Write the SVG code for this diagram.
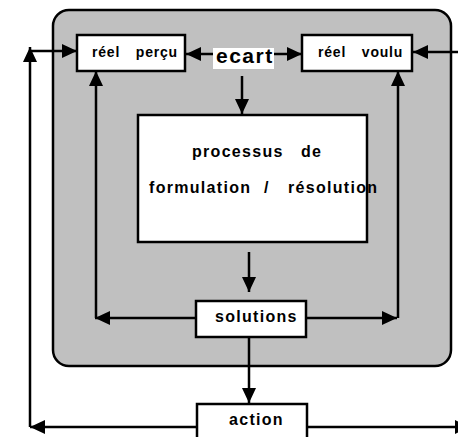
<svg xmlns="http://www.w3.org/2000/svg" width="458" height="437" viewBox="0 0 458 437">
<style>
.box{fill:#fff;stroke:#000;stroke-width:2.5}
.ln{fill:none;stroke:#000;stroke-width:2.5}
.arr{marker-end:url(#ah)}
.t{font-family:"Liberation Sans",Arial,sans-serif;font-weight:bold;fill:#000}
.s13{font-size:14px;letter-spacing:0.8px;word-spacing:11px}
.s16{font-size:16px;letter-spacing:1.3px}
</style>
<defs>
<marker id="ah" markerUnits="userSpaceOnUse" markerWidth="16" markerHeight="14" refX="15" refY="7" orient="auto">
<path d="M0,0 L15,7 L0,14 Z" fill="#000"/>
</marker>
</defs>
<rect id="background" x="53" y="10" width="398" height="356" rx="16" ry="16" fill="#c0c0c0" stroke="#000" stroke-width="2.5"/>
<g id="connectors">
<line class="ln arr" x1="213" y1="54" x2="186" y2="54"/>
<line class="ln arr" x1="274" y1="54" x2="302" y2="54"/>
<line class="ln arr" x1="242" y1="76" x2="242" y2="114"/>
<line class="ln arr" x1="249" y1="252" x2="249" y2="292"/>
<line class="ln arr" x1="196" y1="318" x2="95" y2="318"/>
<line class="ln arr" x1="96" y1="318" x2="96" y2="71"/>
<line class="ln arr" x1="306" y1="318" x2="397" y2="318"/>
<line class="ln arr" x1="398" y1="318" x2="398" y2="71"/>
<line class="ln arr" x1="249" y1="337" x2="249" y2="403"/>
<line class="ln arr" x1="197" y1="427" x2="30" y2="427"/>
<line class="ln arr" x1="30" y1="427" x2="30" y2="47"/>
<line class="ln arr" x1="30" y1="51" x2="77" y2="51"/>
<line class="ln arr" x1="307" y1="427" x2="470" y2="427"/>
<line class="ln arr" x1="470" y1="52" x2="413" y2="52"/>
</g>
<g id="reel-percu">
<rect class="box" x="77" y="35" width="108" height="36"/>
<text class="t s13" x="92" y="57">réel perçu</text>
</g>
<g id="ecart">
<rect x="213" y="48" width="61" height="21" fill="#fff"/>
<text class="t" x="216" y="63" font-size="21" letter-spacing="1.5">ecart</text>
</g>
<g id="reel-voulu">
<rect class="box" x="302" y="35" width="110" height="36"/>
<text class="t s13" x="318" y="57">réel voulu</text>
</g>
<g id="processus">
<rect class="box" x="138" y="115" width="229" height="127"/>
<text class="t s16" y="157"><tspan x="192">processus</tspan><tspan x="301">de</tspan></text>
<text class="t s16" y="193"><tspan x="149">formulation</tspan><tspan x="264">/</tspan><tspan x="288">résolution</tspan></text>
</g>
<g id="solutions">
<rect class="box" x="196" y="301" width="110" height="36"/>
<text class="t s16" x="215" y="322">solutions</text>
</g>
<g id="action">
<rect class="box" x="197" y="404" width="110" height="40"/>
<text class="t s16" x="229" y="425">action</text>
</g>
</svg>
